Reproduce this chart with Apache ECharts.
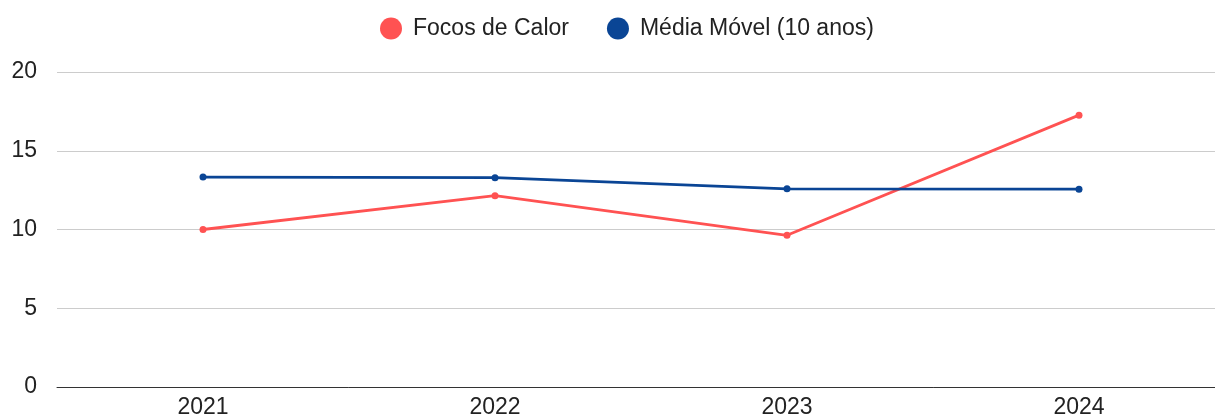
<!DOCTYPE html>
<html>
<head>
<meta charset="utf-8">
<script src="https://cdn.jsdelivr.net/npm/echarts@6/dist/echarts.min.js"></script>
<style>
  html, body { margin: 0; padding: 0; background: #fff; overflow: hidden; }
  #chart { width: 1240px; height: 419px; }
</style>
</head>
<body>
<div id="chart"></div>
<script>
const years = ["2021", "2022", "2023", "2024"];
const focos = [10.0, 12.15, 9.63, 17.26];
const media = [13.33, 13.29, 12.58, 12.56];

let chart = echarts.init(document.getElementById("chart"));
let option = {
  animation: false,
  textStyle: { fontFamily: "Liberation Sans, Arial, sans-serif" },
  legend: {
    top: 12,
    left: 375,
    itemWidth: 22,
    itemHeight: 22,
    itemGap: 38,
    icon: "circle",
    textStyle: { fontSize: 23, color: "#222", padding: [0, 0, 0, 6] },
    data: ["Focos de Calor", "Média Móvel (10 anos)"]
  },
  grid: { left: 57, top: 72, width: 1168, height: 316 },
  xAxis: {
    type: "category",
    data: years,
    boundaryGap: true,
    axisLine: { lineStyle: { color: "#333", width: 1 } },
    axisTick: { show: false },
    axisLabel: { fontSize: 23, color: "#222", margin: 9 }
  },
  yAxis: {
    type: "value",
    min: 0,
    max: 20,
    interval: 5,
    axisLine: { show: false },
    axisTick: { show: false },
    axisLabel: { fontSize: 23, color: "#222", margin: 20 },
    splitLine: { lineStyle: { color: "#ccc" } }
  },
  series: [
    {
      name: "Focos de Calor",
      type: "line",
      data: focos,
      color: "#ff5252",
      symbol: "circle",
      symbolSize: 7,
      lineStyle: { width: 2.8 }
    },
    {
      name: "Média Móvel (10 anos)",
      type: "line",
      data: media,
      color: "#0a4595",
      symbol: "circle",
      symbolSize: 7,
      lineStyle: { width: 2.8 }
    }
  ]
};
chart.setOption(option);
</script>
</body>
</html>
